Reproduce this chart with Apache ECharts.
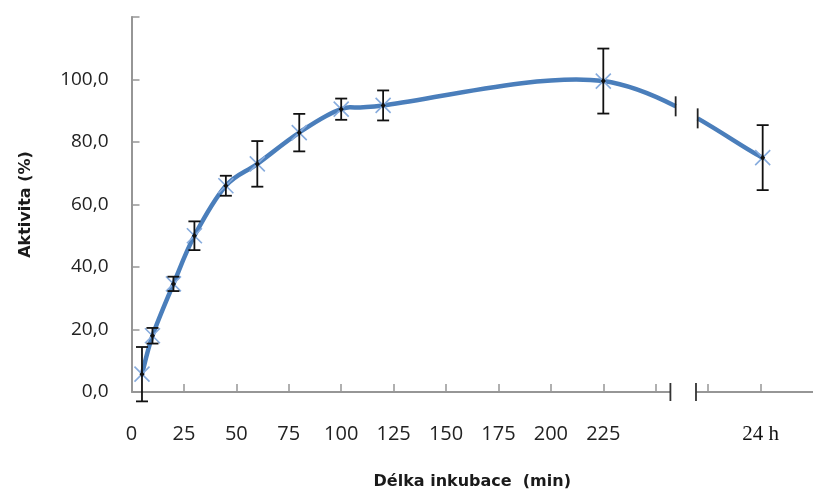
<!DOCTYPE html>
<html><head><meta charset="utf-8">
<script src="https://cdn.jsdelivr.net/npm/echarts@6/dist/echarts.min.js"></script>
<style>html,body{margin:0;padding:0;background:#fff}#c{width:813px;height:495px}</style>
</head><body><div id="c"></div>
<script>
// ---- data ----
const timePositions = [5, 10, 20, 30, 45, 60, 80, 100, 120, 225, 301]; // last = 24 h
const activity      = [5.7, 18, 34.6, 50, 66, 73, 83, 90.5, 91.7, 99.5, 75];
const errors        = [8.7, 2.5, 2.3, 4.6, 3.2, 7.3, 6, 3.4, 4.8, 10.4, 10.4];
const xTickValues   = [0, 25, 50, 75, 100, 125, 150, 175, 200, 225, 250, 275, 300];
const xTickLabels   = ['0','25','50','75','100','125','150','175','200','225','','','24 h'];
const yTickValues   = [0, 20, 40, 60, 80, 100, 120];
const yTickLabels   = ['0,0','20,0','40,0','60,0','80,0','100,0',''];

// ---- layout constants ----
const X_MAX = 325, Y_MAX = 120;
const AXIS_BREAK = [257, 269.2];
const CURVE_BREAK = [259.5, 270];
const LINE_COLOR = '#4A7EBB';
const MARK_COLOR = '#86ABDD';
const AXIS_COLOR = '#969696';
const FONT = 'Open Sans';
const TITLE_FONT = 'DejaVu Sans';

const pts = timePositions.map((x, i) => [x, activity[i], errors[i]]);

function lerp(a, c, t) { return [a[0] + (c[0] - a[0]) * t, a[1] + (c[1] - a[1]) * t]; }
function splitBez(b, t) {
  const a = lerp(b[0], b[1], t), m = lerp(b[1], b[2], t), c = lerp(b[2], b[3], t);
  const d = lerp(a, m, t), e = lerp(m, c, t), f = lerp(d, e, t);
  return [[b[0], a, d, f], [f, e, c, b[3]]];
}
function bezX(b, t) {
  const u = 1 - t;
  return u*u*u*b[0][0] + 3*u*u*t*b[1][0] + 3*u*t*t*b[2][0] + t*t*t*b[3][0];
}
function tAtX(b, x) {
  let lo = 0, hi = 1;
  for (let k = 0; k < 60; k++) { const m = (lo + hi) / 2; if (bezX(b, m) < x) lo = m; else hi = m; }
  return (lo + hi) / 2;
}
function seg(b) { return 'C' + b[1].join(',') + ' ' + b[2].join(',') + ' ' + b[3].join(','); }

function renderCurve(params, api) {
  if (params.dataIndex !== 0) return null;
  const P = pts.map(p => api.coord([p[0], p[1]]));
  const gx0 = api.coord([CURVE_BREAK[0], 0])[0];
  const gx1 = api.coord([CURVE_BREAK[1], 0])[0];
  let d = 'M' + P[0].join(',');
  const marks = [];
  for (let i = 0; i < P.length - 1; i++) {
    const p0 = P[Math.max(i - 1, 0)], p1 = P[i], p2 = P[i + 1], p3 = P[Math.min(i + 2, P.length - 1)];
    const c1 = [p1[0] + (p2[0] - p0[0]) / 6, p1[1] + (p2[1] - p0[1]) / 6];
    const c2 = [p2[0] - (p3[0] - p1[0]) / 6, p2[1] - (p3[1] - p1[1]) / 6];
    const b = [p1, c1, c2, p2];
    if (p1[0] < gx0 && p2[0] > gx1) {
      const left = splitBez(b, tAtX(b, gx0))[0];
      const right = splitBez(b, tAtX(b, gx1))[1];
      d += seg(left) + 'M' + right[0].join(',') + seg(right);
      marks.push(left[3], right[0]);
    } else {
      d += seg(b);
    }
  }
  const children = [{
    type: 'path', shape: { pathData: d },
    style: { fill: 'none', stroke: LINE_COLOR, lineWidth: 4.5, lineCap: 'butt', lineJoin: 'round' }
  }];
  marks.forEach(m => children.push({
    type: 'line', shape: { x1: m[0], y1: m[1] - 10, x2: m[0], y2: m[1] + 10 },
    style: { stroke: '#222', lineWidth: 1.8 }
  }));
  // x axis line with break
  const o = api.coord([0, 0]), a0 = api.coord([AXIS_BREAK[0], 0]), a1 = api.coord([AXIS_BREAK[1], 0]), e = api.coord([X_MAX, 0]);
  children.push({ type: 'line', shape: { x1: o[0], y1: o[1], x2: a0[0], y2: a0[1] }, style: { stroke: AXIS_COLOR, lineWidth: 2 } });
  children.push({ type: 'line', shape: { x1: a1[0], y1: a1[1], x2: e[0], y2: e[1] }, style: { stroke: AXIS_COLOR, lineWidth: 2 } });
  [a0, a1].forEach(m => children.push({
    type: 'line', shape: { x1: m[0], y1: m[1] - 9, x2: m[0], y2: m[1] + 9 },
    style: { stroke: '#333', lineWidth: 1.8 }
  }));
  return { type: 'group', children };
}

function renderMarker(params, api) {
  const c = api.coord([api.value(0), api.value(1)]);
  const s = 7.5;
  return { type: 'group', children: [
    { type: 'line', shape: { x1: c[0] - s, y1: c[1] - s, x2: c[0] + s, y2: c[1] + s }, style: { stroke: MARK_COLOR, lineWidth: 1.6 } },
    { type: 'line', shape: { x1: c[0] - s, y1: c[1] + s, x2: c[0] + s, y2: c[1] - s }, style: { stroke: MARK_COLOR, lineWidth: 1.6 } }
  ]};
}

function renderError(params, api) {
  const x = api.value(0), y = api.value(1), e = api.value(2);
  const t = api.coord([x, y + e]), b = api.coord([x, y - e]), c = api.coord([x, y]);
  const w = 6, st = { stroke: '#111', lineWidth: 1.8 };
  return { type: 'group', children: [
    { type: 'line', shape: { x1: t[0], y1: t[1], x2: b[0], y2: b[1] }, style: st },
    { type: 'line', shape: { x1: t[0] - w, y1: t[1], x2: t[0] + w, y2: t[1] }, style: st },
    { type: 'line', shape: { x1: b[0] - w, y1: b[1], x2: b[0] + w, y2: b[1] }, style: st },
    { type: 'polygon', shape: { points: [[c[0], c[1] - 3], [c[0] + 2.5, c[1]], [c[0], c[1] + 3], [c[0] - 2.5, c[1]]] }, style: { fill: '#111' } }
  ]};
}

const chart = echarts.init(document.getElementById('c'), null, { renderer: 'canvas' });
chart.setOption({
  animation: false,
  backgroundColor: '#fff',
  grid: { left: 131.5, top: 17, width: X_MAX * 2.114, height: 381.5, containLabel: false },
  xAxis: {
    type: 'value', min: 0, max: X_MAX, interval: 25,
    name: 'Délka inkubace  (min)', nameLocation: 'middle', nameGap: 82,
    nameTextStyle: { fontFamily: TITLE_FONT, fontWeight: 'bold', fontSize: 16, color: '#1a1a1a' },
    axisLine: { show: false },
    axisTick: { show: true, inside: true, length: 8, lineStyle: { color: AXIS_COLOR, width: 1.5 } },
    splitLine: { show: false },
    axisLabel: {
      margin: 32, showMaxLabel: false, fontFamily: FONT, fontSize: 20, color: '#222',
      formatter: v => { const i = xTickValues.indexOf(v); if (i < 0) return ''; const l = xTickLabels[i]; return l === '24 h' ? '{s|24 h}' : l; },
      rich: { s: { fontFamily: 'Liberation Serif', fontSize: 21, color: '#111' } }
    }
  },
  yAxis: {
    type: 'value', min: 0, max: Y_MAX, interval: 20,
    name: 'Aktivita (%)', nameLocation: 'middle', nameGap: 98,
    nameTextStyle: { fontFamily: TITLE_FONT, fontWeight: 'bold', fontSize: 16, color: '#1a1a1a' },
    axisLine: { show: true, lineStyle: { color: AXIS_COLOR, width: 2 } },
    axisTick: { show: true, inside: true, length: 8, lineStyle: { color: AXIS_COLOR, width: 1.5 } },
    splitLine: { show: false },
    axisLabel: {
      margin: 23, fontFamily: FONT, fontSize: 19, color: '#222',
      formatter: v => { const i = yTickValues.indexOf(v); return i < 0 ? '' : yTickLabels[i]; }
    }
  },
  series: [
    { type: 'custom', clip: false, renderItem: renderCurve, data: pts, encode: { x: 0, y: 1 }, z: 2 },
    { type: 'custom', clip: false, renderItem: renderMarker, data: pts, encode: { x: 0, y: 1 }, z: 3 },
    { type: 'custom', clip: false, renderItem: renderError, data: pts, encode: { x: 0, y: 1 }, z: 4 }
  ]
});
</script></body></html>
